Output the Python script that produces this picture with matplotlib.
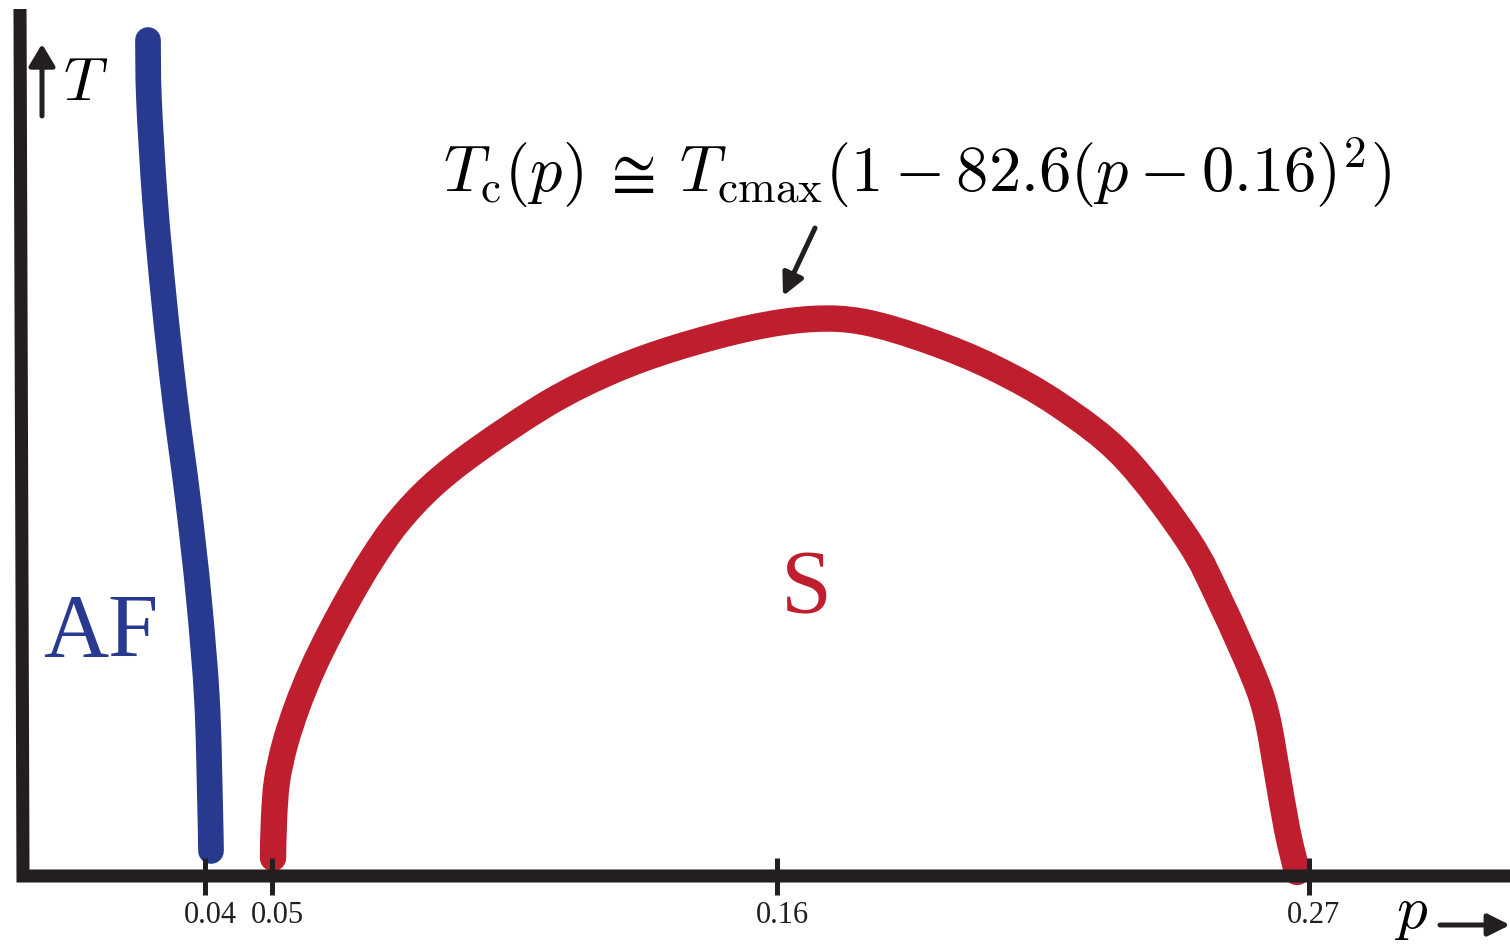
import numpy as np
import matplotlib.pyplot as plt
from matplotlib.path import Path
from matplotlib.patches import PathPatch

plt.rcParams['mathtext.fontset'] = 'cm'

blue = '#283a8f'
red = '#be1e2d'
ink = '#231f20'

# schematic phase diagram, drawn in a 1510 x 944 canvas frame (y grows downward)
af_x = [148, 149, 155, 164, 175, 188, 199, 207, 210, 211]
af_y = [40, 100, 200, 300, 400, 500, 600, 700, 800, 851]

sc_x = [273, 274, 277, 285, 297, 312, 330, 350, 372, 398, 433, 480, 550, 612,
        675, 750, 812, 864, 929, 994, 1059, 1124, 1188, 1221, 1254, 1267,
        1277, 1287, 1297]
sc_y = [858, 819, 781, 744, 707, 670, 633, 596, 559, 522, 485, 448, 402, 371,
        348, 328, 319, 322, 341, 368, 405, 457, 540, 603, 677, 717,
        772, 829, 872]

tick_pos = [205, 272, 777, 1309]
tick_labels = ['0.04', '0.05', '0.16', '0.27']


def smooth_path(xs, ys):
    # cubic Bezier segments through every point (Catmull-Rom tangents)
    p = np.column_stack([xs, ys]).astype(float)
    ext = np.vstack([p[0], p, p[-1]])
    verts = [p[0]]
    codes = [Path.MOVETO]
    for i in range(len(p) - 1):
        c1 = ext[i + 1] + (ext[i + 2] - ext[i]) / 6
        c2 = ext[i + 2] - (ext[i + 3] - ext[i + 1]) / 6
        verts += [c1, c2, ext[i + 2]]
        codes += [Path.CURVE4] * 3
    return Path(verts, codes)


fig = plt.figure(figsize=(15.1, 9.44), dpi=100)
ax = fig.add_axes([0, 0, 1, 1])
ax.set_xlim(0, 1510)
ax.set_ylim(944, 0)
ax.axis('off')

# axes frame
ax.plot([20, 23, 1510], [9, 876, 876], color=ink, lw=9.4,
        solid_joinstyle='miter', solid_capstyle='butt')
for xp, lab in zip(tick_pos, tick_labels):
    ax.plot([xp, xp], [858, 895], color=ink, lw=3.6, solid_capstyle='butt')
    ax.text(xp + 5, 923, lab, fontsize=22, family='Liberation Serif',
            ha='center', va='baseline', color=ink)

# phase boundaries
ax.add_patch(PathPatch(smooth_path(af_x, af_y), fill=False, edgecolor=blue,
                       lw=18.5, capstyle='round', joinstyle='round'))
ax.add_patch(PathPatch(smooth_path(sc_x, sc_y), fill=False, edgecolor=red,
                       lw=19, capstyle='round', joinstyle='round'))

ax.text(101, 657, 'AF', fontsize=65, family='Liberation Serif', color=blue,
        ha='center', va='baseline')
ax.text(806, 613, 'S', fontsize=66, family='Liberation Serif', color=red,
        ha='center', va='baseline')

# axis labels with arrows
ax.annotate('', xy=(42, 44), xytext=(42, 116),
            arrowprops=dict(arrowstyle='-|>,head_length=0.6,head_width=0.36',
                            color=ink, lw=3.6, mutation_scale=22, shrinkA=0, shrinkB=0))
ax.text(63, 100, '$T$', fontsize=44, color='black', ha='left', va='baseline')
ax.text(1394, 928, '$p$', fontsize=44, color='black', ha='left', va='baseline')
ax.annotate('', xy=(1510, 925), xytext=(1440, 925),
            arrowprops=dict(arrowstyle='-|>,head_length=0.6,head_width=0.3',
                            color=ink, lw=3.6, mutation_scale=22, shrinkA=0, shrinkB=0))

# dome formula
ax.text(917, 192, r'$T_{\rm c}(p)\:\cong\:T_{\rm cmax}(1 - 82.6(p - 0.16)^2)$',
        fontsize=46.5, color='black', ha='center', va='baseline')
ax.annotate('', xy=(783, 296), xytext=(815, 228),
            arrowprops=dict(arrowstyle='-|>,head_length=0.6,head_width=0.3',
                            color=ink, lw=3.6, mutation_scale=22, shrinkA=0, shrinkB=0))

fig.savefig('out.png', dpi=100)
